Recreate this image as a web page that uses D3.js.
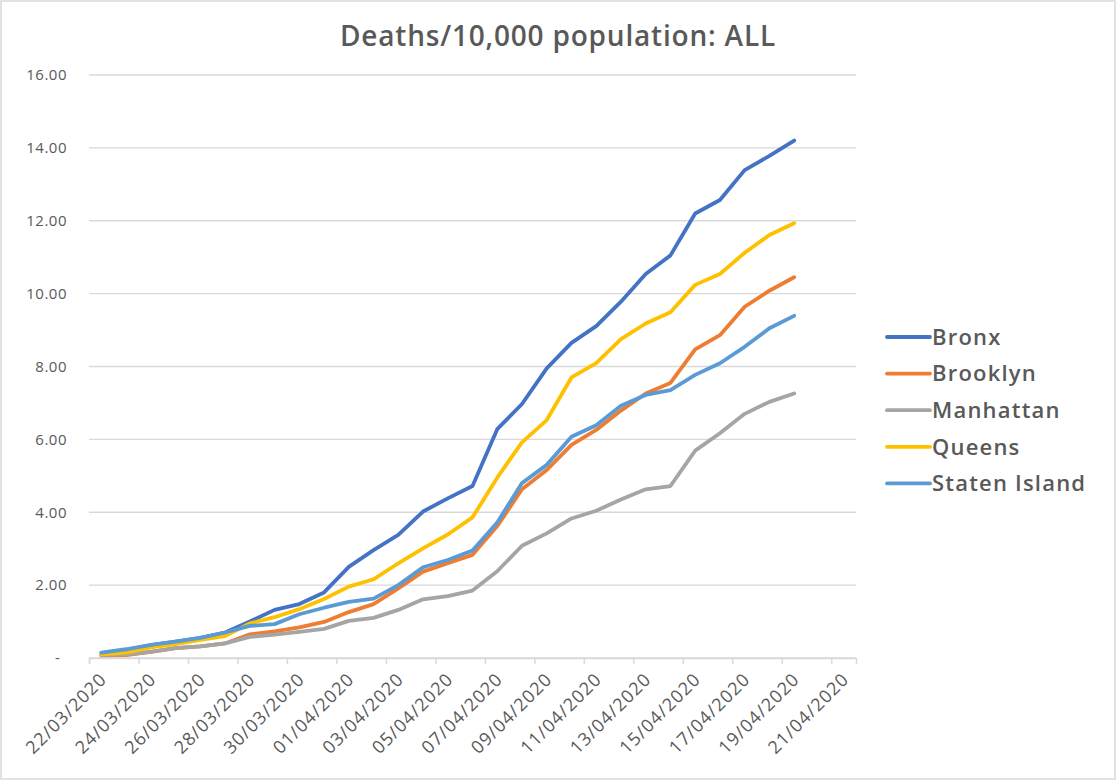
<!DOCTYPE html>
<html>

<head>
    <meta charset="UTF-8">
    <title>Deaths/10,000 population: ALL</title>
    <style>
        body {
            margin: 0;
            background-color: white;
        }
        svg {
            display: block;
            font-family: "Open Sans", sans-serif;
        }
        .grid line {
            stroke: #d9d9d9;
            stroke-width: 1.3;
        }
    </style>
</head>

<body>
    <svg></svg>
    <script src="https://d3js.org/d3.v7.min.js"></script>
    <script>
        // one value per day, 22/03/2020 .. 19/04/2020
        let startDate = Date.UTC(2020, 2, 22);
        let boroughs = ["Bronx", "Brooklyn", "Manhattan", "Queens", "Staten Island"];
        let colors = ["#4472C4", "#ED7D31", "#A5A5A5", "#FFC000", "#5B9BD5"];

        let bronx = [0.13, 0.22, 0.35, 0.45, 0.55, 0.70, 1.00, 1.32, 1.48, 1.80, 2.50, 2.96, 3.38, 4.02, 4.38,
            4.72, 6.28, 6.97, 7.95, 8.65, 9.11, 9.78, 10.54, 11.05, 12.20, 12.57, 13.39, 13.78, 14.20];
        let brooklyn = [0.07, 0.08, 0.17, 0.27, 0.32, 0.40, 0.65, 0.73, 0.84, 0.99, 1.26, 1.48, 1.91, 2.37, 2.60,
            2.83, 3.62, 4.63, 5.16, 5.85, 6.26, 6.79, 7.26, 7.55, 8.47, 8.86, 9.64, 10.08, 10.45];
        let manhattan = [0.08, 0.10, 0.17, 0.27, 0.32, 0.40, 0.58, 0.64, 0.72, 0.80, 1.02, 1.10, 1.32, 1.61, 1.70,
            1.85, 2.38, 3.08, 3.42, 3.83, 4.04, 4.35, 4.63, 4.72, 5.69, 6.17, 6.70, 7.03, 7.26];
        let queens = [0.10, 0.15, 0.29, 0.38, 0.50, 0.60, 0.95, 1.12, 1.34, 1.62, 1.96, 2.16, 2.60, 3.01, 3.39,
            3.86, 4.95, 5.92, 6.53, 7.70, 8.09, 8.75, 9.18, 9.49, 10.24, 10.54, 11.12, 11.61, 11.93];
        let statenIsland = [0.15, 0.24, 0.36, 0.45, 0.55, 0.70, 0.88, 0.93, 1.20, 1.38, 1.54, 1.63, 2.00, 2.49, 2.69,
            2.95, 3.72, 4.80, 5.30, 6.07, 6.39, 6.92, 7.22, 7.35, 7.77, 8.09, 8.54, 9.05, 9.39];

        let yTicks = [0, 2, 4, 6, 8, 10, 12, 14, 16];
        let series = [bronx, brooklyn, manhattan, queens, statenIsland];

        let width = 1116, height = 780;
        let svg = d3.select("svg")
            .attr("width", width)
            .attr("height", height);

        // chart border
        svg.append("rect")
            .attr("x", 1).attr("y", 1)
            .attr("width", width - 2).attr("height", height - 2)
            .attr("fill", "white")
            .attr("stroke", "#d9d9d9")
            .attr("stroke-width", 1.5);

        let x = d3.scaleUtc()
            .domain([new Date(startDate), d3.utcDay.offset(new Date(startDate), 31)])
            .range([89, 856]);
        let y = d3.scaleLinear()
            .domain([0, 16])
            .range([658, 75]);

        let day = i => d3.utcHour.offset(d3.utcDay.offset(new Date(startDate), i), 12);

        // gridlines
        svg.append("g")
            .attr("class", "grid")
            .selectAll("line")
            .data(yTicks)
            .enter()
            .append("line")
            .attr("x1", x.range()[0])
            .attr("x2", x.range()[1])
            .attr("y1", d => y(d))
            .attr("y2", d => y(d));

        // y labels
        svg.append("g")
            .selectAll("text")
            .data(yTicks)
            .enter()
            .append("text")
            .attr("x", d => d == 0 ? 55 : 67)
            .attr("y", d => y(d))
            .attr("dy", "0.35em")
            .attr("text-anchor", d => d == 0 ? "start" : "end")
            .attr("fill", "#595959")
            .style("font-size", "15px")
            .style("letter-spacing", "0.5px")
            .text(d => d == 0 ? "-" : d3.format(".2f")(d));

        // x axis
        let xTickDates = d3.range(0, 31, 2).map(i => d3.utcDay.offset(new Date(startDate), i));
        let xAxis = svg.append("g")
            .attr("transform", "translate(0," + y(0) + ")")
            .call(d3.axisBottom(x).tickValues(xTickDates).tickSize(6).tickFormat(""));
        xAxis.select(".domain").attr("stroke", "#d9d9d9").attr("stroke-width", 1.5);
        xAxis.selectAll(".tick line").attr("stroke", "#d9d9d9").attr("stroke-width", 1.5);

        svg.append("g")
            .selectAll("text")
            .data(xTickDates)
            .enter()
            .append("text")
            .attr("transform", d => "translate(" + (x(d3.utcHour.offset(d, 12)) + 2) + "," + 676 + ") rotate(-45)")
            .attr("text-anchor", "end")
            .attr("dy", "0.35em")
            .attr("fill", "#595959")
            .style("font-size", "18px")
            .style("letter-spacing", "1px")
            .text(d => d3.utcFormat("%d/%m/%Y")(d));

        // lines
        let line = d3.line()
            .x((d, i) => x(day(i)))
            .y(d => y(d));

        svg.append("g")
            .selectAll("path")
            .data(series)
            .enter()
            .append("path")
            .attr("d", line)
            .attr("fill", "none")
            .attr("stroke", (d, i) => colors[i])
            .attr("stroke-width", 3.8)
            .attr("stroke-linejoin", "round")
            .attr("stroke-linecap", "round");

        // title
        svg.append("text")
            .attr("x", 558)
            .attr("y", 46)
            .attr("text-anchor", "middle")
            .attr("fill", "#595959")
            .style("font-size", "28px")
            .style("font-weight", 600)
            .style("letter-spacing", "0.8px")
            .text("Deaths/10,000 population: ALL");

        // legend
        let legend = svg.append("g")
            .selectAll("g")
            .data(boroughs)
            .enter()
            .append("g")
            .attr("transform", (d, i) => "translate(887," + (337 + i * 36.6) + ")");
        legend.append("line")
            .attr("x1", 0).attr("x2", 43)
            .attr("stroke", (d, i) => colors[i])
            .attr("stroke-width", 3.8)
            .attr("stroke-linecap", "round");
        legend.append("text")
            .attr("x", 45)
            .attr("dy", "0.35em")
            .attr("fill", "#595959")
            .style("font-size", "22px")
            .style("font-weight", 600)
            .style("letter-spacing", "1.2px")
            .text(d => d);
    </script>

</body>

</html>
